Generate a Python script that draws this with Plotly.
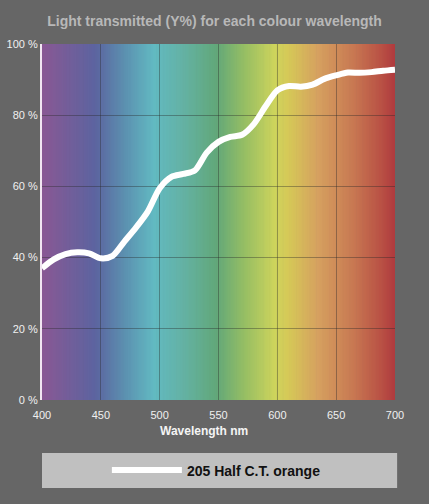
import plotly.graph_objects as go

# ---- data ----
wavelengths = [400, 410, 420, 430, 440, 450, 460, 470, 480, 490, 500, 510, 520, 530, 540,
               550, 560, 570, 580, 590, 600, 610, 620, 630, 640, 650, 660, 670, 680, 690, 700]
transmission = [37.0, 39.5, 41.0, 41.5, 41.2, 39.8, 40.5, 44.5, 48.5, 53.0, 59.5, 62.7, 63.5, 64.5, 69.5,
                72.5, 73.9, 74.5, 77.5, 82.5, 87.0, 88.2, 88.0, 88.6, 90.2, 91.2, 92.0, 91.9, 92.1, 92.5, 92.8]
series_name = "205 Half C.T. orange"

# spectrum background colour stops (wavelength, colour)
stop_nm = [400, 445, 470, 495, 520, 548, 572, 598, 610, 635, 665, 690, 700]
stop_rgb = [(138, 88, 148), (92, 100, 160), (92, 144, 176), (98, 186, 194), (100, 178, 164),
            (98, 168, 122), (150, 190, 100), (206, 212, 92), (214, 200, 88), (214, 160, 96),
            (200, 120, 82), (184, 78, 68), (176, 58, 62)]

x_ticks = [400, 450, 500, 550, 600, 650, 700]
y_ticks = [0, 20, 40, 60, 80, 100]
y_tick_text = [f"{v} %" for v in y_ticks]


def colour_at(nm):
    for i in range(len(stop_nm) - 1):
        a, b = stop_nm[i], stop_nm[i + 1]
        if a <= nm <= b:
            t = (nm - a) / (b - a)
            c = [round(stop_rgb[i][k] + t * (stop_rgb[i + 1][k] - stop_rgb[i][k])) for k in range(3)]
            return f"rgb({c[0]},{c[1]},{c[2]})"
    return f"rgb{stop_rgb[-1]}"


shapes = []
step = 1
nm = stop_nm[0]
while nm < stop_nm[-1]:
    shapes.append(dict(type="rect", xref="x", yref="y", x0=nm, x1=min(nm + step + 0.6, stop_nm[-1]),
                       y0=0, y1=100, fillcolor=colour_at(nm + step / 2), line=dict(width=0),
                       layer="below"))
    nm += step

# legend box
shapes.append(dict(type="rect", xref="paper", yref="paper", x0=0, x1=1.006, y0=-0.247, y1=-0.149,
                   fillcolor="#c0c0c0", line=dict(width=0), layer="below"))

grid_col = "rgba(40,40,40,0.38)"

fig = go.Figure()
fig.add_trace(go.Scatter(x=wavelengths, y=transmission, mode="lines", name="<b>" + series_name + "</b>",
                         line=dict(color="white", width=6, shape="spline", smoothing=0.8),
                         hoverinfo="skip"))

fig.update_layout(
    width=429, height=504,
    margin=dict(l=42, r=34, t=44, b=104, autoexpand=False),
    paper_bgcolor="#666666",
    plot_bgcolor="#666666",
    font=dict(family="Liberation Sans, Arial, sans-serif", color="#f0f0f0", size=11),
    title=dict(text="<b>Light transmitted (Y%) for each colour wavelength</b>",
               x=0.5, xanchor="center", y=0.958, yanchor="middle",
               font=dict(size=14, color="#b8b8b8")),
    xaxis=dict(range=[400, 700], tickvals=x_ticks, showgrid=True, automargin=False,
               gridcolor=grid_col, gridwidth=1, zeroline=False,
               showline=False, ticks="", ticklabelstandoff=7,
               tickfont=dict(size=11, color="#f0f0f0")),
    yaxis=dict(range=[0, 100], tickmode="array", tickvals=y_ticks, ticktext=y_tick_text, showgrid=True,
               automargin=False,
               gridcolor=grid_col, gridwidth=1, zeroline=False,
               showline=True, linecolor="#f2e6f2", linewidth=2, ticks="",
               tickfont=dict(size=11, color="#f0f0f0")),
    shapes=shapes,
    showlegend=True,
    legend=dict(x=0.494, xanchor="center", y=-0.198, yanchor="middle", orientation="h",
                bgcolor="rgba(0,0,0,0)", itemwidth=70,
                font=dict(size=14, color="#111111", family="Liberation Sans, Arial, sans-serif")),
    annotations=[dict(text="<b>Wavelength nm</b>", xref="paper", yref="paper", x=0.46, y=-0.087,
                      xanchor="center", yanchor="middle", showarrow=False,
                      font=dict(size=12, color="#f4f4f4"))],
)

fig.write_html("out.html", config={"displayModeBar": False},
               post_script="document.body.style.margin='0';document.body.style.background='#666666';")
